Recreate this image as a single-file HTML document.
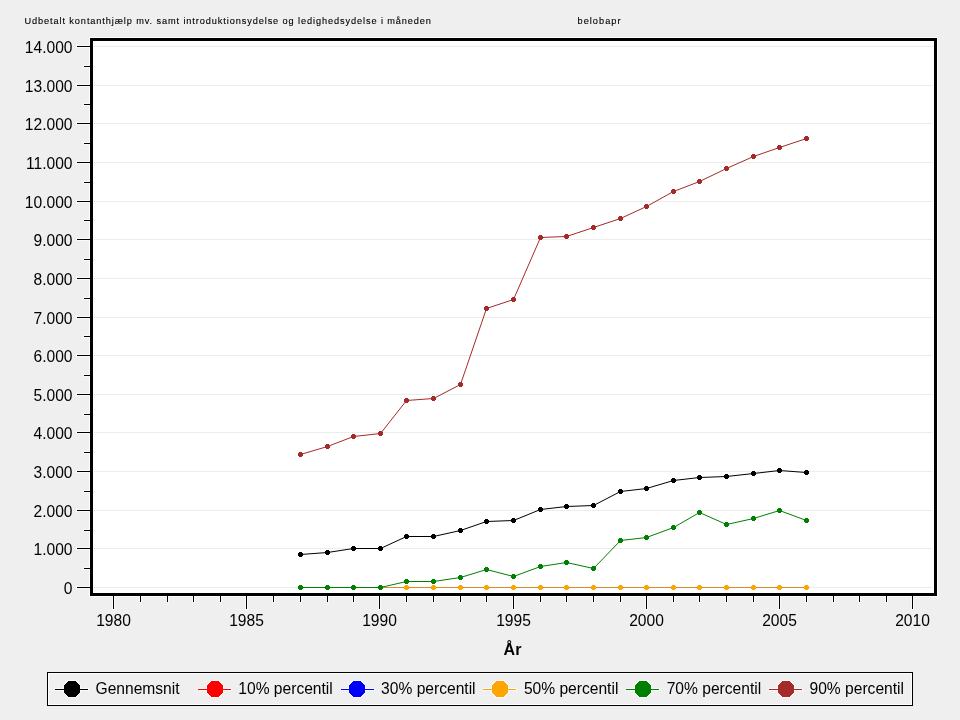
<!DOCTYPE html><html><head><meta charset="utf-8"><style>html,body{margin:0;padding:0;background:#efefef;}svg{display:block;will-change:transform}text{font-family:"Liberation Sans",sans-serif} .ax{font-size:15.6px;fill:#000;stroke:none}</style></head><body>
<svg width="960" height="720" viewBox="0 0 960 720">
<rect x="0" y="0" width="960" height="720" fill="#efefef"/>
<text x="24.5" y="23.5" font-size="9.2" fill="#000" stroke="#000" stroke-width="0.12" textLength="406.5" lengthAdjust="spacing">Udbetalt kontanthjælp mv. samt introduktionsydelse og ledighedsydelse i måneden</text>
<text x="577.5" y="23.5" font-size="9.2" fill="#000" stroke="#000" stroke-width="0.12" textLength="43" lengthAdjust="spacing">belobapr</text>
<rect x="89" y="37" width="849" height="560" fill="#fff"/>
<rect x="90" y="38" width="847" height="558" fill="#000"/>
<rect x="93" y="41" width="841" height="552" fill="#fff"/>
<defs><pattern id="dots" x="0" y="0" width="4" height="1" patternUnits="userSpaceOnUse"><rect x="0" y="0" width="1" height="1" fill="#e8e8e8"/><rect x="1" y="0" width="1" height="1" fill="#eaf0ea"/><rect x="2" y="0" width="1" height="1" fill="#e8e8e8"/><rect x="3" y="0" width="1" height="1" fill="#f3f3f3"/></pattern></defs>
<rect x="94" y="587" width="839" height="1" fill="url(#dots)"/><rect x="94" y="548" width="839" height="1" fill="url(#dots)"/><rect x="94" y="510" width="839" height="1" fill="url(#dots)"/><rect x="94" y="471" width="839" height="1" fill="url(#dots)"/><rect x="94" y="432" width="839" height="1" fill="url(#dots)"/><rect x="94" y="394" width="839" height="1" fill="url(#dots)"/><rect x="94" y="355" width="839" height="1" fill="url(#dots)"/><rect x="94" y="317" width="839" height="1" fill="url(#dots)"/><rect x="94" y="278" width="839" height="1" fill="url(#dots)"/><rect x="94" y="239" width="839" height="1" fill="url(#dots)"/><rect x="94" y="201" width="839" height="1" fill="url(#dots)"/><rect x="94" y="162" width="839" height="1" fill="url(#dots)"/><rect x="94" y="123" width="839" height="1" fill="url(#dots)"/><rect x="94" y="85" width="839" height="1" fill="url(#dots)"/><rect x="94" y="46" width="839" height="1" fill="url(#dots)"/>
<rect x="76" y="586" width="14" height="3" fill="#fafafa"/><rect x="76" y="547" width="14" height="3" fill="#fafafa"/><rect x="76" y="509" width="14" height="3" fill="#fafafa"/><rect x="76" y="470" width="14" height="3" fill="#fafafa"/><rect x="76" y="431" width="14" height="3" fill="#fafafa"/><rect x="76" y="393" width="14" height="3" fill="#fafafa"/><rect x="76" y="354" width="14" height="3" fill="#fafafa"/><rect x="76" y="316" width="14" height="3" fill="#fafafa"/><rect x="76" y="277" width="14" height="3" fill="#fafafa"/><rect x="76" y="238" width="14" height="3" fill="#fafafa"/><rect x="76" y="200" width="14" height="3" fill="#fafafa"/><rect x="76" y="161" width="14" height="3" fill="#fafafa"/><rect x="76" y="122" width="14" height="3" fill="#fafafa"/><rect x="76" y="84" width="14" height="3" fill="#fafafa"/><rect x="76" y="45" width="14" height="3" fill="#fafafa"/><rect x="83" y="567" width="7" height="3" fill="#fafafa"/><rect x="83" y="529" width="7" height="3" fill="#fafafa"/><rect x="83" y="490" width="7" height="3" fill="#fafafa"/><rect x="83" y="451" width="7" height="3" fill="#fafafa"/><rect x="83" y="413" width="7" height="3" fill="#fafafa"/><rect x="83" y="374" width="7" height="3" fill="#fafafa"/><rect x="83" y="335" width="7" height="3" fill="#fafafa"/><rect x="83" y="297" width="7" height="3" fill="#fafafa"/><rect x="83" y="258" width="7" height="3" fill="#fafafa"/><rect x="83" y="219" width="7" height="3" fill="#fafafa"/><rect x="83" y="181" width="7" height="3" fill="#fafafa"/><rect x="83" y="142" width="7" height="3" fill="#fafafa"/><rect x="83" y="103" width="7" height="3" fill="#fafafa"/><rect x="83" y="65" width="7" height="3" fill="#fafafa"/><rect x="112" y="596" width="3" height="14" fill="#fafafa"/><rect x="139" y="596" width="3" height="7" fill="#fafafa"/><rect x="166" y="596" width="3" height="7" fill="#fafafa"/><rect x="192" y="596" width="3" height="7" fill="#fafafa"/><rect x="219" y="596" width="3" height="7" fill="#fafafa"/><rect x="245" y="596" width="3" height="14" fill="#fafafa"/><rect x="272" y="596" width="3" height="7" fill="#fafafa"/><rect x="299" y="596" width="3" height="7" fill="#fafafa"/><rect x="326" y="596" width="3" height="7" fill="#fafafa"/><rect x="352" y="596" width="3" height="7" fill="#fafafa"/><rect x="378" y="596" width="3" height="14" fill="#fafafa"/><rect x="405" y="596" width="3" height="7" fill="#fafafa"/><rect x="432" y="596" width="3" height="7" fill="#fafafa"/><rect x="459" y="596" width="3" height="7" fill="#fafafa"/><rect x="485" y="596" width="3" height="7" fill="#fafafa"/><rect x="512" y="596" width="3" height="14" fill="#fafafa"/><rect x="539" y="596" width="3" height="7" fill="#fafafa"/><rect x="565" y="596" width="3" height="7" fill="#fafafa"/><rect x="592" y="596" width="3" height="7" fill="#fafafa"/><rect x="619" y="596" width="3" height="7" fill="#fafafa"/><rect x="645" y="596" width="3" height="14" fill="#fafafa"/><rect x="672" y="596" width="3" height="7" fill="#fafafa"/><rect x="698" y="596" width="3" height="7" fill="#fafafa"/><rect x="725" y="596" width="3" height="7" fill="#fafafa"/><rect x="752" y="596" width="3" height="7" fill="#fafafa"/><rect x="778" y="596" width="3" height="14" fill="#fafafa"/><rect x="805" y="596" width="3" height="7" fill="#fafafa"/><rect x="832" y="596" width="3" height="7" fill="#fafafa"/><rect x="858" y="596" width="3" height="7" fill="#fafafa"/><rect x="885" y="596" width="3" height="7" fill="#fafafa"/><rect x="911" y="596" width="3" height="14" fill="#fafafa"/>
<rect x="77" y="587" width="13" height="1" fill="#000"/><text x="72.5" y="593.8" class="ax" text-anchor="end">0</text><rect x="77" y="548" width="13" height="1" fill="#000"/><text x="72.5" y="554.8" class="ax" text-anchor="end">1.000</text><rect x="77" y="510" width="13" height="1" fill="#000"/><text x="72.5" y="516.8" class="ax" text-anchor="end">2.000</text><rect x="77" y="471" width="13" height="1" fill="#000"/><text x="72.5" y="477.8" class="ax" text-anchor="end">3.000</text><rect x="77" y="432" width="13" height="1" fill="#000"/><text x="72.5" y="438.8" class="ax" text-anchor="end">4.000</text><rect x="77" y="394" width="13" height="1" fill="#000"/><text x="72.5" y="400.8" class="ax" text-anchor="end">5.000</text><rect x="77" y="355" width="13" height="1" fill="#000"/><text x="72.5" y="361.8" class="ax" text-anchor="end">6.000</text><rect x="77" y="317" width="13" height="1" fill="#000"/><text x="72.5" y="323.8" class="ax" text-anchor="end">7.000</text><rect x="77" y="278" width="13" height="1" fill="#000"/><text x="72.5" y="284.8" class="ax" text-anchor="end">8.000</text><rect x="77" y="239" width="13" height="1" fill="#000"/><text x="72.5" y="245.8" class="ax" text-anchor="end">9.000</text><rect x="77" y="201" width="13" height="1" fill="#000"/><text x="72.5" y="207.8" class="ax" text-anchor="end">10.000</text><rect x="77" y="162" width="13" height="1" fill="#000"/><text x="72.5" y="168.8" class="ax" text-anchor="end">11.000</text><rect x="77" y="123" width="13" height="1" fill="#000"/><text x="72.5" y="129.8" class="ax" text-anchor="end">12.000</text><rect x="77" y="85" width="13" height="1" fill="#000"/><text x="72.5" y="91.8" class="ax" text-anchor="end">13.000</text><rect x="77" y="46" width="13" height="1" fill="#000"/><text x="72.5" y="52.8" class="ax" text-anchor="end">14.000</text><rect x="84" y="568" width="6" height="1" fill="#000"/><rect x="84" y="530" width="6" height="1" fill="#000"/><rect x="84" y="491" width="6" height="1" fill="#000"/><rect x="84" y="452" width="6" height="1" fill="#000"/><rect x="84" y="414" width="6" height="1" fill="#000"/><rect x="84" y="375" width="6" height="1" fill="#000"/><rect x="84" y="336" width="6" height="1" fill="#000"/><rect x="84" y="298" width="6" height="1" fill="#000"/><rect x="84" y="259" width="6" height="1" fill="#000"/><rect x="84" y="220" width="6" height="1" fill="#000"/><rect x="84" y="182" width="6" height="1" fill="#000"/><rect x="84" y="143" width="6" height="1" fill="#000"/><rect x="84" y="104" width="6" height="1" fill="#000"/><rect x="84" y="66" width="6" height="1" fill="#000"/><rect x="113" y="596" width="1" height="13" fill="#000"/><text x="113.5" y="626" class="ax" text-anchor="middle">1980</text><rect x="140" y="596" width="1" height="6" fill="#000"/><rect x="167" y="596" width="1" height="6" fill="#000"/><rect x="193" y="596" width="1" height="6" fill="#000"/><rect x="220" y="596" width="1" height="6" fill="#000"/><rect x="246" y="596" width="1" height="13" fill="#000"/><text x="246.5" y="626" class="ax" text-anchor="middle">1985</text><rect x="273" y="596" width="1" height="6" fill="#000"/><rect x="300" y="596" width="1" height="6" fill="#000"/><rect x="327" y="596" width="1" height="6" fill="#000"/><rect x="353" y="596" width="1" height="6" fill="#000"/><rect x="379" y="596" width="1" height="13" fill="#000"/><text x="379.5" y="626" class="ax" text-anchor="middle">1990</text><rect x="406" y="596" width="1" height="6" fill="#000"/><rect x="433" y="596" width="1" height="6" fill="#000"/><rect x="460" y="596" width="1" height="6" fill="#000"/><rect x="486" y="596" width="1" height="6" fill="#000"/><rect x="513" y="596" width="1" height="13" fill="#000"/><text x="513.5" y="626" class="ax" text-anchor="middle">1995</text><rect x="540" y="596" width="1" height="6" fill="#000"/><rect x="566" y="596" width="1" height="6" fill="#000"/><rect x="593" y="596" width="1" height="6" fill="#000"/><rect x="620" y="596" width="1" height="6" fill="#000"/><rect x="646" y="596" width="1" height="13" fill="#000"/><text x="646.5" y="626" class="ax" text-anchor="middle">2000</text><rect x="673" y="596" width="1" height="6" fill="#000"/><rect x="699" y="596" width="1" height="6" fill="#000"/><rect x="726" y="596" width="1" height="6" fill="#000"/><rect x="753" y="596" width="1" height="6" fill="#000"/><rect x="779" y="596" width="1" height="13" fill="#000"/><text x="779.5" y="626" class="ax" text-anchor="middle">2005</text><rect x="806" y="596" width="1" height="6" fill="#000"/><rect x="833" y="596" width="1" height="6" fill="#000"/><rect x="859" y="596" width="1" height="6" fill="#000"/><rect x="886" y="596" width="1" height="6" fill="#000"/><rect x="912" y="596" width="1" height="13" fill="#000"/><text x="912.5" y="626" class="ax" text-anchor="middle">2010</text>
<text x="512.5" y="655" font-size="16" font-weight="bold" text-anchor="middle" fill="#000">År</text>
<polyline points="300.5,587.5 327.5,587.5 353.5,587.5 380.5,587.5 406.5,587.5 433.5,587.5 460.5,587.5 486.5,587.5 513.5,587.5 540.5,587.5 566.5,587.5 593.5,587.5 620.5,587.5 646.5,587.5 673.5,587.5 699.5,587.5 726.5,587.5 753.5,587.5 779.5,587.5 806.5,587.5" fill="none" stroke="#d98a2a" stroke-width="1"/><path d="M299 585h3v1h1v3h-1v1h-3v-1h-1v-3h1z" fill="#ffa500" shape-rendering="crispEdges"/><path d="M326 585h3v1h1v3h-1v1h-3v-1h-1v-3h1z" fill="#ffa500" shape-rendering="crispEdges"/><path d="M352 585h3v1h1v3h-1v1h-3v-1h-1v-3h1z" fill="#ffa500" shape-rendering="crispEdges"/><path d="M379 585h3v1h1v3h-1v1h-3v-1h-1v-3h1z" fill="#ffa500" shape-rendering="crispEdges"/><path d="M405 585h3v1h1v3h-1v1h-3v-1h-1v-3h1z" fill="#ffa500" shape-rendering="crispEdges"/><path d="M432 585h3v1h1v3h-1v1h-3v-1h-1v-3h1z" fill="#ffa500" shape-rendering="crispEdges"/><path d="M459 585h3v1h1v3h-1v1h-3v-1h-1v-3h1z" fill="#ffa500" shape-rendering="crispEdges"/><path d="M485 585h3v1h1v3h-1v1h-3v-1h-1v-3h1z" fill="#ffa500" shape-rendering="crispEdges"/><path d="M512 585h3v1h1v3h-1v1h-3v-1h-1v-3h1z" fill="#ffa500" shape-rendering="crispEdges"/><path d="M539 585h3v1h1v3h-1v1h-3v-1h-1v-3h1z" fill="#ffa500" shape-rendering="crispEdges"/><path d="M565 585h3v1h1v3h-1v1h-3v-1h-1v-3h1z" fill="#ffa500" shape-rendering="crispEdges"/><path d="M592 585h3v1h1v3h-1v1h-3v-1h-1v-3h1z" fill="#ffa500" shape-rendering="crispEdges"/><path d="M619 585h3v1h1v3h-1v1h-3v-1h-1v-3h1z" fill="#ffa500" shape-rendering="crispEdges"/><path d="M645 585h3v1h1v3h-1v1h-3v-1h-1v-3h1z" fill="#ffa500" shape-rendering="crispEdges"/><path d="M672 585h3v1h1v3h-1v1h-3v-1h-1v-3h1z" fill="#ffa500" shape-rendering="crispEdges"/><path d="M698 585h3v1h1v3h-1v1h-3v-1h-1v-3h1z" fill="#ffa500" shape-rendering="crispEdges"/><path d="M725 585h3v1h1v3h-1v1h-3v-1h-1v-3h1z" fill="#ffa500" shape-rendering="crispEdges"/><path d="M752 585h3v1h1v3h-1v1h-3v-1h-1v-3h1z" fill="#ffa500" shape-rendering="crispEdges"/><path d="M778 585h3v1h1v3h-1v1h-3v-1h-1v-3h1z" fill="#ffa500" shape-rendering="crispEdges"/><path d="M805 585h3v1h1v3h-1v1h-3v-1h-1v-3h1z" fill="#ffa500" shape-rendering="crispEdges"/>
<polyline points="300.5,554.5 327.5,552.5 353.5,548.5 380.5,548.5 406.5,536.5 433.5,536.5 460.5,530.5 486.5,521.5 513.5,520.5 540.5,509.5 566.5,506.5 593.5,505.5 620.5,491.5 646.5,488.5 673.5,480.5 699.5,477.5 726.5,476.5 753.5,473.5 779.5,470.5 806.5,472.5" fill="none" stroke="#000" stroke-width="1"/><path d="M299 552h3v1h1v3h-1v1h-3v-1h-1v-3h1z" fill="#000" shape-rendering="crispEdges"/><path d="M326 550h3v1h1v3h-1v1h-3v-1h-1v-3h1z" fill="#000" shape-rendering="crispEdges"/><path d="M352 546h3v1h1v3h-1v1h-3v-1h-1v-3h1z" fill="#000" shape-rendering="crispEdges"/><path d="M379 546h3v1h1v3h-1v1h-3v-1h-1v-3h1z" fill="#000" shape-rendering="crispEdges"/><path d="M405 534h3v1h1v3h-1v1h-3v-1h-1v-3h1z" fill="#000" shape-rendering="crispEdges"/><path d="M432 534h3v1h1v3h-1v1h-3v-1h-1v-3h1z" fill="#000" shape-rendering="crispEdges"/><path d="M459 528h3v1h1v3h-1v1h-3v-1h-1v-3h1z" fill="#000" shape-rendering="crispEdges"/><path d="M485 519h3v1h1v3h-1v1h-3v-1h-1v-3h1z" fill="#000" shape-rendering="crispEdges"/><path d="M512 518h3v1h1v3h-1v1h-3v-1h-1v-3h1z" fill="#000" shape-rendering="crispEdges"/><path d="M539 507h3v1h1v3h-1v1h-3v-1h-1v-3h1z" fill="#000" shape-rendering="crispEdges"/><path d="M565 504h3v1h1v3h-1v1h-3v-1h-1v-3h1z" fill="#000" shape-rendering="crispEdges"/><path d="M592 503h3v1h1v3h-1v1h-3v-1h-1v-3h1z" fill="#000" shape-rendering="crispEdges"/><path d="M619 489h3v1h1v3h-1v1h-3v-1h-1v-3h1z" fill="#000" shape-rendering="crispEdges"/><path d="M645 486h3v1h1v3h-1v1h-3v-1h-1v-3h1z" fill="#000" shape-rendering="crispEdges"/><path d="M672 478h3v1h1v3h-1v1h-3v-1h-1v-3h1z" fill="#000" shape-rendering="crispEdges"/><path d="M698 475h3v1h1v3h-1v1h-3v-1h-1v-3h1z" fill="#000" shape-rendering="crispEdges"/><path d="M725 474h3v1h1v3h-1v1h-3v-1h-1v-3h1z" fill="#000" shape-rendering="crispEdges"/><path d="M752 471h3v1h1v3h-1v1h-3v-1h-1v-3h1z" fill="#000" shape-rendering="crispEdges"/><path d="M778 468h3v1h1v3h-1v1h-3v-1h-1v-3h1z" fill="#000" shape-rendering="crispEdges"/><path d="M805 470h3v1h1v3h-1v1h-3v-1h-1v-3h1z" fill="#000" shape-rendering="crispEdges"/>
<polyline points="300.5,587.5 327.5,587.5 353.5,587.5 380.5,587.5 406.5,581.5 433.5,581.5 460.5,577.5 486.5,569.5 513.5,576.5 540.5,566.5 566.5,562.5 593.5,568.5 620.5,540.5 646.5,537.5 673.5,527.5 699.5,512.5 726.5,524.5 753.5,518.5 779.5,510.5 806.5,520.5" fill="none" stroke="#008000" stroke-width="1"/><path d="M299 585h3v1h1v3h-1v1h-3v-1h-1v-3h1z" fill="#008000" shape-rendering="crispEdges"/><path d="M326 585h3v1h1v3h-1v1h-3v-1h-1v-3h1z" fill="#008000" shape-rendering="crispEdges"/><path d="M352 585h3v1h1v3h-1v1h-3v-1h-1v-3h1z" fill="#008000" shape-rendering="crispEdges"/><path d="M379 585h3v1h1v3h-1v1h-3v-1h-1v-3h1z" fill="#008000" shape-rendering="crispEdges"/><path d="M405 579h3v1h1v3h-1v1h-3v-1h-1v-3h1z" fill="#008000" shape-rendering="crispEdges"/><path d="M432 579h3v1h1v3h-1v1h-3v-1h-1v-3h1z" fill="#008000" shape-rendering="crispEdges"/><path d="M459 575h3v1h1v3h-1v1h-3v-1h-1v-3h1z" fill="#008000" shape-rendering="crispEdges"/><path d="M485 567h3v1h1v3h-1v1h-3v-1h-1v-3h1z" fill="#008000" shape-rendering="crispEdges"/><path d="M512 574h3v1h1v3h-1v1h-3v-1h-1v-3h1z" fill="#008000" shape-rendering="crispEdges"/><path d="M539 564h3v1h1v3h-1v1h-3v-1h-1v-3h1z" fill="#008000" shape-rendering="crispEdges"/><path d="M565 560h3v1h1v3h-1v1h-3v-1h-1v-3h1z" fill="#008000" shape-rendering="crispEdges"/><path d="M592 566h3v1h1v3h-1v1h-3v-1h-1v-3h1z" fill="#008000" shape-rendering="crispEdges"/><path d="M619 538h3v1h1v3h-1v1h-3v-1h-1v-3h1z" fill="#008000" shape-rendering="crispEdges"/><path d="M645 535h3v1h1v3h-1v1h-3v-1h-1v-3h1z" fill="#008000" shape-rendering="crispEdges"/><path d="M672 525h3v1h1v3h-1v1h-3v-1h-1v-3h1z" fill="#008000" shape-rendering="crispEdges"/><path d="M698 510h3v1h1v3h-1v1h-3v-1h-1v-3h1z" fill="#008000" shape-rendering="crispEdges"/><path d="M725 522h3v1h1v3h-1v1h-3v-1h-1v-3h1z" fill="#008000" shape-rendering="crispEdges"/><path d="M752 516h3v1h1v3h-1v1h-3v-1h-1v-3h1z" fill="#008000" shape-rendering="crispEdges"/><path d="M778 508h3v1h1v3h-1v1h-3v-1h-1v-3h1z" fill="#008000" shape-rendering="crispEdges"/><path d="M805 518h3v1h1v3h-1v1h-3v-1h-1v-3h1z" fill="#008000" shape-rendering="crispEdges"/>
<polyline points="300.5,454.5 327.5,446.5 353.5,436.5 380.5,433.5 406.5,400.5 433.5,398.5 460.5,384.5 486.5,308.5 513.5,299.5 540.5,237.5 566.5,236.5 593.5,227.5 620.5,218.5 646.5,206.5 673.5,191.5 699.5,181.5 726.5,168.5 753.5,156.5 779.5,147.5 806.5,138.5" fill="none" stroke="#a52a2a" stroke-width="1"/><path d="M299 452h3v1h1v3h-1v1h-3v-1h-1v-3h1z" fill="#a52a2a" shape-rendering="crispEdges"/><path d="M326 444h3v1h1v3h-1v1h-3v-1h-1v-3h1z" fill="#a52a2a" shape-rendering="crispEdges"/><path d="M352 434h3v1h1v3h-1v1h-3v-1h-1v-3h1z" fill="#a52a2a" shape-rendering="crispEdges"/><path d="M379 431h3v1h1v3h-1v1h-3v-1h-1v-3h1z" fill="#a52a2a" shape-rendering="crispEdges"/><path d="M405 398h3v1h1v3h-1v1h-3v-1h-1v-3h1z" fill="#a52a2a" shape-rendering="crispEdges"/><path d="M432 396h3v1h1v3h-1v1h-3v-1h-1v-3h1z" fill="#a52a2a" shape-rendering="crispEdges"/><path d="M459 382h3v1h1v3h-1v1h-3v-1h-1v-3h1z" fill="#a52a2a" shape-rendering="crispEdges"/><path d="M485 306h3v1h1v3h-1v1h-3v-1h-1v-3h1z" fill="#a52a2a" shape-rendering="crispEdges"/><path d="M512 297h3v1h1v3h-1v1h-3v-1h-1v-3h1z" fill="#a52a2a" shape-rendering="crispEdges"/><path d="M539 235h3v1h1v3h-1v1h-3v-1h-1v-3h1z" fill="#a52a2a" shape-rendering="crispEdges"/><path d="M565 234h3v1h1v3h-1v1h-3v-1h-1v-3h1z" fill="#a52a2a" shape-rendering="crispEdges"/><path d="M592 225h3v1h1v3h-1v1h-3v-1h-1v-3h1z" fill="#a52a2a" shape-rendering="crispEdges"/><path d="M619 216h3v1h1v3h-1v1h-3v-1h-1v-3h1z" fill="#a52a2a" shape-rendering="crispEdges"/><path d="M645 204h3v1h1v3h-1v1h-3v-1h-1v-3h1z" fill="#a52a2a" shape-rendering="crispEdges"/><path d="M672 189h3v1h1v3h-1v1h-3v-1h-1v-3h1z" fill="#a52a2a" shape-rendering="crispEdges"/><path d="M698 179h3v1h1v3h-1v1h-3v-1h-1v-3h1z" fill="#a52a2a" shape-rendering="crispEdges"/><path d="M725 166h3v1h1v3h-1v1h-3v-1h-1v-3h1z" fill="#a52a2a" shape-rendering="crispEdges"/><path d="M752 154h3v1h1v3h-1v1h-3v-1h-1v-3h1z" fill="#a52a2a" shape-rendering="crispEdges"/><path d="M778 145h3v1h1v3h-1v1h-3v-1h-1v-3h1z" fill="#a52a2a" shape-rendering="crispEdges"/><path d="M805 136h3v1h1v3h-1v1h-3v-1h-1v-3h1z" fill="#a52a2a" shape-rendering="crispEdges"/>
<rect x="47" y="672" width="866" height="34" fill="#000"/>
<rect x="48" y="673" width="864" height="32" fill="#fff"/>
<rect x="49" y="674" width="862" height="30" fill="#efefef"/>
<rect x="55" y="688" width="34" height="3" fill="#fafafa"/>
<path d="M68.0 680.0h8.0l5.0 5.0v8.0l-5.0 5.0h-8.0l-5.0 -5.0v-8.0z" fill="#fafafa"/>
<rect x="55" y="689" width="33" height="1" fill="#000"/>
<path d="M68.5 681.0h7.0l4.5 4.5v7.0l-4.5 4.5h-7.0l-4.5 -4.5v-7.0z" fill="#000" shape-rendering="crispEdges"/>
<text x="95.5" y="694" class="ax">Gennemsnit</text>
<rect x="198" y="688" width="34" height="3" fill="#fafafa"/>
<path d="M211.0 680.0h8.0l5.0 5.0v8.0l-5.0 5.0h-8.0l-5.0 -5.0v-8.0z" fill="#fafafa"/>
<rect x="198" y="689" width="33" height="1" fill="#f00"/>
<path d="M211.5 681.0h7.0l4.5 4.5v7.0l-4.5 4.5h-7.0l-4.5 -4.5v-7.0z" fill="#f00" shape-rendering="crispEdges"/>
<text x="238.3" y="694" class="ax">10% percentil</text>
<rect x="341" y="688" width="34" height="3" fill="#fafafa"/>
<path d="M353.0 680.0h8.0l5.0 5.0v8.0l-5.0 5.0h-8.0l-5.0 -5.0v-8.0z" fill="#fafafa"/>
<rect x="341" y="689" width="33" height="1" fill="#00f"/>
<path d="M353.5 681.0h7.0l4.5 4.5v7.0l-4.5 4.5h-7.0l-4.5 -4.5v-7.0z" fill="#00f" shape-rendering="crispEdges"/>
<text x="381.1" y="694" class="ax">30% percentil</text>
<rect x="483" y="688" width="34" height="3" fill="#fafafa"/>
<path d="M496.0 680.0h8.0l5.0 5.0v8.0l-5.0 5.0h-8.0l-5.0 -5.0v-8.0z" fill="#fafafa"/>
<rect x="483" y="689" width="33" height="1" fill="#ffa500"/>
<path d="M496.5 681.0h7.0l4.5 4.5v7.0l-4.5 4.5h-7.0l-4.5 -4.5v-7.0z" fill="#ffa500" shape-rendering="crispEdges"/>
<text x="523.9" y="694" class="ax">50% percentil</text>
<rect x="626" y="688" width="34" height="3" fill="#fafafa"/>
<path d="M639.0 680.0h8.0l5.0 5.0v8.0l-5.0 5.0h-8.0l-5.0 -5.0v-8.0z" fill="#fafafa"/>
<rect x="626" y="689" width="33" height="1" fill="#008000"/>
<path d="M639.5 681.0h7.0l4.5 4.5v7.0l-4.5 4.5h-7.0l-4.5 -4.5v-7.0z" fill="#008000" shape-rendering="crispEdges"/>
<text x="666.7" y="694" class="ax">70% percentil</text>
<rect x="769" y="688" width="34" height="3" fill="#fafafa"/>
<path d="M782.0 680.0h8.0l5.0 5.0v8.0l-5.0 5.0h-8.0l-5.0 -5.0v-8.0z" fill="#fafafa"/>
<rect x="769" y="689" width="33" height="1" fill="#a52a2a"/>
<path d="M782.5 681.0h7.0l4.5 4.5v7.0l-4.5 4.5h-7.0l-4.5 -4.5v-7.0z" fill="#a52a2a" shape-rendering="crispEdges"/>
<text x="809.5" y="694" class="ax">90% percentil</text>
</svg></body></html>
